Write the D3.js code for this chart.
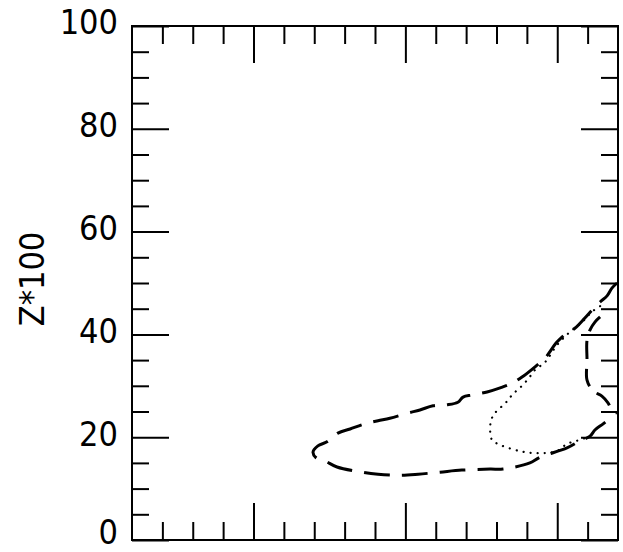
<!DOCTYPE html>
<html><head><meta charset="utf-8">
<script src="https://cdn.jsdelivr.net/npm/d3@7"></script>
<style>body{margin:0;background:#fff}</style>
</head><body><svg id="c" width="623" height="552"></svg>
<script>
// ---- data ----
const yMajorTicks = [0, 20, 40, 60, 80, 100];
const yMinorTicks = [5, 10, 15, 25, 30, 35, 45, 50, 55, 65, 70, 75, 85, 90, 95];
const xMajorTicks = [0, 0.5, 1.0];
const xMinorTicks = [-0.3, -0.2, -0.1, 0.1, 0.2, 0.3, 0.4, 0.6, 0.7, 0.8, 0.9, 1.1];
const yTitle = "Z*100";

// long-dashed loop
const dashedMainX = [1.197,1.180,1.164,1.141,1.114,1.091,1.058,1.032,0.999,0.960,0.927,0.884,0.851,0.812,0.769,0.719,0.690,0.673,0.637,0.591,0.548,0.509,0.449,0.410,0.367,0.318,0.278,0.242,0.212,0.196,0.206,0.235,0.275,0.357,0.410,0.482,0.542,0.614,0.686,0.779,0.821,0.910,0.943,1.032,1.075,1.108,1.124,1.151,1.174,1.190];
const dashedMainY = [50.0,49.0,47.5,46.3,44.7,43.2,41.2,40.3,38.5,35.4,33.7,31.7,30.5,29.6,28.8,28.2,27.8,26.8,26.3,26.1,25.3,24.7,23.7,23.2,22.6,21.6,20.8,19.1,18.3,17.1,16.0,15.4,14.2,13.2,12.8,12.6,12.8,13.2,13.6,13.8,13.8,15.0,16.1,17.9,19.3,20.2,21.4,22.6,23.7,24.3];
// long-dashed branch near right edge
const dashedBranchX = [1.141,1.124,1.108,1.098,1.098,1.098,1.118,1.147,1.167,1.180,1.197];
const dashedBranchY = [43.4,42.4,40.9,38.9,35.0,31.1,29.0,28.0,26.7,25.3,24.7];
// dotted curve
const dottedX = [1.141,1.114,1.082,1.042,0.999,0.960,0.927,0.904,0.877,0.854,0.835,0.812,0.792,0.782,0.779,0.785,0.812,0.877,0.933,0.999,1.032,1.065,1.101];
const dottedY = [45.5,44.4,42.4,40.5,37.9,34.6,33.1,31.3,29.6,28.4,27.0,25.7,24.5,23.2,21.4,19.5,18.5,17.3,16.9,17.3,18.7,19.3,20.0];

// ---- layout ----
const W = 623, H = 552;
const m = {left: 132, right: 5, top: 26, bottom: 12};
const svg = d3.select("#c");
svg.append("rect").attr("width", W).attr("height", H).attr("fill", "#fff");

const x = d3.scaleLinear().domain([-0.4, 1.2]).range([m.left, W - m.right]);
const y = d3.scaleLinear().domain([0, 100]).range([H - m.bottom, m.top]);

const FONT = "'DejaVu Sans Condensed','DejaVu Sans',sans-serif";
const minorLen = 17, majorLen = 37;

function styleAxis(g) {
  g.select(".domain").remove();
  g.selectAll("line").attr("stroke", "#000").attr("stroke-width", 2);
  g.selectAll("text").attr("font-family", FONT).attr("font-size", 34)
    .attr("font-stretch", "condensed").attr("fill", "#000")
    .attr("y", d => d === 0 ? -7 : -3);
}

// left
svg.append("g").attr("transform", `translate(${m.left},0)`)
  .call(d3.axisLeft(y).tickValues(yMinorTicks).tickSizeInner(-minorLen).tickSizeOuter(0).tickFormat(""))
  .call(styleAxis);
svg.append("g").attr("transform", `translate(${m.left},0)`)
  .call(d3.axisLeft(y).tickValues(yMajorTicks).tickSizeInner(-majorLen).tickSizeOuter(0).tickPadding(14).tickFormat(d3.format("d")))
  .call(styleAxis);
// right
svg.append("g").attr("transform", `translate(${W - m.right},0)`)
  .call(d3.axisRight(y).tickValues(yMinorTicks).tickSizeInner(-minorLen).tickSizeOuter(0).tickFormat(""))
  .call(styleAxis);
svg.append("g").attr("transform", `translate(${W - m.right},0)`)
  .call(d3.axisRight(y).tickValues(yMajorTicks).tickSizeInner(-majorLen).tickSizeOuter(0).tickFormat(""))
  .call(styleAxis);
// top
svg.append("g").attr("transform", `translate(0,${m.top})`)
  .call(d3.axisTop(x).tickValues(xMinorTicks).tickSizeInner(-18).tickSizeOuter(0).tickFormat(""))
  .call(styleAxis);
svg.append("g").attr("transform", `translate(0,${m.top})`)
  .call(d3.axisTop(x).tickValues(xMajorTicks).tickSizeInner(-majorLen).tickSizeOuter(0).tickFormat(""))
  .call(styleAxis);
// bottom
svg.append("g").attr("transform", `translate(0,${H - m.bottom})`)
  .call(d3.axisBottom(x).tickValues(xMinorTicks).tickSizeInner(-18).tickSizeOuter(0).tickFormat(""))
  .call(styleAxis);
svg.append("g").attr("transform", `translate(0,${H - m.bottom})`)
  .call(d3.axisBottom(x).tickValues(xMajorTicks).tickSizeInner(-majorLen).tickSizeOuter(0).tickFormat(""))
  .call(styleAxis);

// frame
svg.append("rect")
  .attr("x", m.left).attr("y", m.top)
  .attr("width", W - m.left - m.right).attr("height", H - m.top - m.bottom)
  .attr("fill", "none").attr("stroke", "#000").attr("stroke-width", 2);

// y title
svg.append("text")
  .attr("transform", `translate(44,279) rotate(-90)`)
  .attr("text-anchor", "middle")
  .attr("font-family", FONT).attr("font-size", 34).attr("font-stretch", "condensed")
  .attr("fill", "#000")
  .text(yTitle);

// curves
const line = d3.line().x(d => x(d[0])).y(d => y(d[1])).curve(d3.curveCatmullRom.alpha(0.5));
const zip = (a, b) => a.map((v, i) => [v, b[i]]);

svg.append("path").datum(zip(dashedMainX, dashedMainY))
  .attr("d", line).attr("fill", "none").attr("stroke", "#000")
  .attr("stroke-width", 3).attr("stroke-dasharray", "26,12");
svg.append("path").datum(zip(dashedBranchX, dashedBranchY))
  .attr("d", line).attr("fill", "none").attr("stroke", "#000")
  .attr("stroke-width", 3).attr("stroke-dasharray", "18,10");
svg.append("path").datum(zip(dottedX, dottedY))
  .attr("d", line).attr("fill", "none").attr("stroke", "#000")
  .attr("stroke-width", 2.2).attr("stroke-linecap", "round").attr("stroke-dasharray", "0.1,7");
</script>
</body></html>
